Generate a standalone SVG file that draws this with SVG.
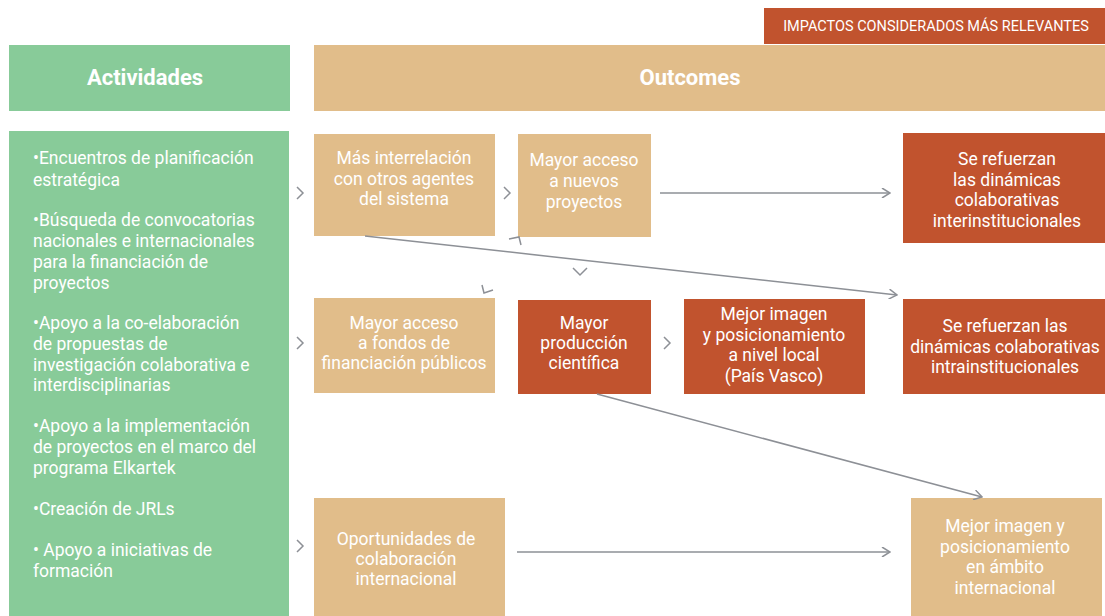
<svg xmlns="http://www.w3.org/2000/svg" width="1105" height="616" viewBox="0 0 1105 616">
<defs>
<style>
.green{fill:#88CB99}
.tan{fill:#E1BD8A}
.red{fill:#C1532E}
text{font-family:Roboto,"Liberation Sans",sans-serif;fill:#fff;font-size:17.5px}
.c{text-anchor:middle}
.h{font-weight:bold;font-size:22px}
.ln{stroke:#8D9096;stroke-width:1.5;fill:none}
.ch{stroke:#8D9096;stroke-width:1.5;fill:none}
</style>
<marker id="ah" viewBox="0 0 10 10" refX="9" refY="5" markerWidth="10" markerHeight="10" markerUnits="userSpaceOnUse" orient="auto">
<path d="M1,0 L9,5 L1,10" fill="none" stroke="#8D9096" stroke-width="1.5"/>
</marker>
</defs>
<rect width="1105" height="616" fill="#fff"/>
<g id="legend"><rect class="red" x="764" y="8" width="341" height="36"/><text x="936" y="31" class="c" style="font-size:14.5px">IMPACTOS CONSIDERADOS MÁS RELEVANTES</text></g>
<g id="hdr-actividades"><rect class="green" x="9" y="45" width="281" height="66"/><text x="145" y="85" class="c h">Actividades</text></g>
<g id="hdr-outcomes"><rect class="tan" x="314" y="45" width="791" height="66"/><text x="690" y="85" class="c h">Outcomes</text></g>
<g id="actividades"><rect class="green" x="9" y="131" width="280" height="485"/>
<text x="33" y="164">•Encuentros de planificación</text>
<text x="33" y="186">estratégica</text>
<text x="33" y="226">•Búsqueda de convocatorias</text>
<text x="33" y="247">nacionales e internacionales</text>
<text x="33" y="268">para la financiación de</text>
<text x="33" y="289">proyectos</text>
<text x="33" y="329">•Apoyo a la co-elaboración</text>
<text x="33" y="350">de propuestas de</text>
<text x="33" y="371">investigación colaborativa e</text>
<text x="33" y="391">interdisciplinarias</text>
<text x="33" y="432">•Apoyo a la implementación</text>
<text x="33" y="453">de proyectos en el marco del</text>
<text x="33" y="474">programa Elkartek</text>
<text x="33" y="515">•Creación de JRLs</text>
<text x="33" y="556">• Apoyo a iniciativas de</text>
<text x="33" y="577">formación</text>
</g>
<g id="n-interrelacion"><rect class="tan" x="314" y="134" width="181" height="102"/>
<text class="c" x="404" y="164">Más interrelación</text><text class="c" x="404" y="185">con otros agentes</text><text class="c" x="404" y="205">del sistema</text></g>
<g id="n-nuevos"><rect class="tan" x="518" y="134" width="133" height="103"/>
<text class="c" x="584" y="166">Mayor acceso</text><text class="c" x="584" y="187">a nuevos</text><text class="c" x="584" y="208">proyectos</text></g>
<g id="n-inter"><rect class="red" x="903" y="133" width="202" height="110"/>
<text class="c" x="1007" y="165">Se refuerzan</text><text class="c" x="1007" y="186">las dinámicas</text><text class="c" x="1007" y="206">colaborativas</text><text class="c" x="1007" y="227">interinstitucionales</text></g>
<g id="n-fondos"><rect class="tan" x="314" y="298" width="181" height="95"/>
<text class="c" x="404" y="329">Mayor acceso</text><text class="c" x="404" y="349">a fondos de</text><text class="c" x="404" y="369">financiación públicos</text></g>
<g id="n-produccion"><rect class="red" x="518" y="300" width="133" height="94"/>
<text class="c" x="584" y="329">Mayor</text><text class="c" x="584" y="349">producción</text><text class="c" x="584" y="369">científica</text></g>
<g id="n-local"><rect class="red" x="684" y="299" width="181" height="95"/>
<text class="c" x="774" y="320">Mejor imagen</text><text class="c" x="774" y="341">y posicionamiento</text><text class="c" x="774" y="361">a nivel local</text><text class="c" x="774" y="382">(País Vasco)</text></g>
<g id="n-intra"><rect class="red" x="903" y="299" width="202" height="95"/>
<text class="c" x="1005" y="332">Se refuerzan las</text><text class="c" x="1005" y="353">dinámicas colaborativas</text><text class="c" x="1005" y="373">intrainstitucionales</text></g>
<g id="n-oportunidades"><rect class="tan" x="314" y="498" width="191" height="118"/>
<text class="c" x="406" y="545">Oportunidades de</text><text class="c" x="406" y="565">colaboración</text><text class="c" x="406" y="585">internacional</text></g>
<g id="n-internacional"><rect class="tan" x="911" y="498" width="191" height="118"/>
<text class="c" x="1005" y="532">Mejor imagen y</text><text class="c" x="1005" y="553">posicionamiento</text><text class="c" x="1005" y="573">en ámbito</text><text class="c" x="1005" y="594">internacional</text></g>
<g id="connectors">
<polyline class="ch" points="297,187 303,193 297,199"/>
<polyline class="ch" points="297,337 303,343 297,349"/>
<polyline class="ch" points="297,540 303,546 297,552"/>
<polyline class="ch" points="504,187 510,193 504,199"/>
<polyline class="ch" points="664,337 670,343 664,349"/>
<polyline class="ch" points="509,239 519,237 521,245"/>
<polyline class="ch" points="573,268 580,275 587,268"/>
<polyline class="ch" points="482,285 484,293 493,290"/>
<line class="ln" x1="660" y1="193" x2="890" y2="193" marker-end="url(#ah)"/>
<line class="ln" x1="365" y1="236" x2="897" y2="295" marker-end="url(#ah)"/>
<line class="ln" x1="597" y1="394" x2="982" y2="497" marker-end="url(#ah)"/>
<line class="ln" x1="517" y1="552" x2="890" y2="552" marker-end="url(#ah)"/>
</g>
</svg>
